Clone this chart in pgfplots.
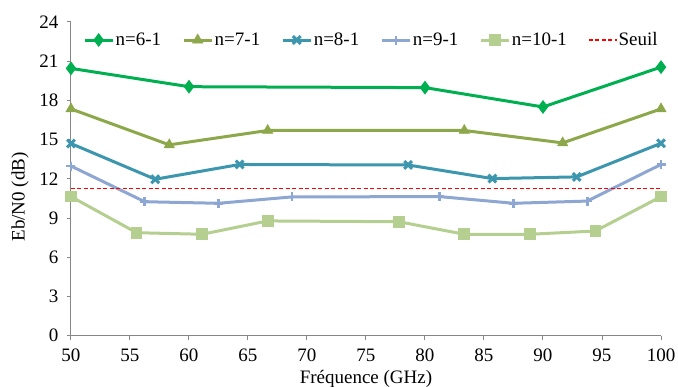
\documentclass[border=0pt]{standalone}
\usepackage{fontspec}
\setmainfont{Liberation Serif}
\usepackage{pgfplots}
\pgfplotsset{compat=1.18}
\definecolor{cA}{RGB}{0,176,80}
\definecolor{cB}{RGB}{140,168,74}
\definecolor{cC}{RGB}{60,150,174}
\definecolor{cD}{RGB}{142,166,210}
\definecolor{cE}{RGB}{181,207,144}
\definecolor{axgray}{RGB}{134,134,134}
\begin{document}
\begin{tikzpicture}
\useasboundingbox (-71pt,-50.3pt) rectangle (607pt,335.7pt);
\begin{axis}[
  scale only axis, width=590pt, height=313.7pt,
  xmin=50, xmax=100, ymin=0, ymax=24,
  xtick={50,55,...,100}, ytick={0,3,...,24},
  axis x line*=bottom, axis y line*=left,
  axis line style={draw=axgray, line width=1pt, -},
  tick align=outside, major tick length=4pt,
  every tick/.style={draw=axgray, line width=1pt},
  /pgf/number format/assume math mode=true,
  every tick label/.append style={font=\fontsize{19}{22}\selectfont, text=black},
  xticklabel style={yshift=-6pt},
  yticklabel style={xshift=-5pt},
  label style={font=\fontsize{19}{22}\selectfont},
  xlabel={Fréquence (GHz)}, ylabel={Eb/N0 (dB)},
  xlabel style={at={(axis description cs:0.5,0)}, anchor=center, yshift=-43pt},
  ylabel style={at={(axis description cs:0,0.5)}, anchor=center, xshift=-18pt, yshift=51pt},
  legend style={at={(axis description cs:0.0203,0.9426)}, anchor=west, draw=none, fill=none,
    inner sep=0pt, font=\fontsize{19}{22}\selectfont,
    nodes={inner sep=1.5pt},
    /tikz/every even column/.append style={column sep=19.5pt}},
  legend columns=-1,
  legend image code/.code={\draw[mark repeat=2,mark phase=2] plot coordinates {(0pt,0pt) (14pt,0pt) (28pt,0pt)};},
]
\addplot[cA, line width=3pt, mark=diamond*, mark size=4.5pt, mark options={solid}] coordinates {
(50,20.45) (60,19.05) (80,18.98) (90,17.5) (100,20.55)};
\addlegendentry{n=6-1}
\addplot[cB, line width=3pt, mark=triangle*, mark size=6pt, mark options={solid, line width=0.5pt}] coordinates {
(50,17.35) (58.33,14.6) (66.67,15.7) (83.33,15.7) (91.67,14.75) (100,17.35)};
\addlegendentry{n=7-1}
\addplot[cC, line width=3pt, mark=x, mark size=5.5pt, mark options={solid, line width=3pt}] coordinates {
(50,14.7) (57.14,11.97) (64.29,13.1) (78.57,13.06) (85.71,12.02) (92.86,12.15) (100,14.72)};
\addlegendentry{n=8-1}
\addplot[cD, line width=3pt, mark=+, mark size=4.5pt, mark options={solid, line width=2.5pt}] coordinates {
(50,12.98) (56.25,10.25) (62.5,10.13) (68.75,10.62) (81.25,10.64) (87.5,10.13) (93.75,10.3) (100,13.1)};
\addlegendentry{n=9-1}
\addplot[cE, line width=3pt, mark=square*, mark size=4.3pt, mark options={solid}] coordinates {
(50,10.64) (55.56,7.88) (61.11,7.76) (66.67,8.78) (77.78,8.72) (83.33,7.76) (88.89,7.76) (94.44,8.01) (100,10.64)};
\addlegendentry{n=10-1}
\addplot[red, line width=1.3pt, dash pattern=on 4pt off 2.5pt] coordinates {(50,11.28) (100,11.28)};
\addlegendentry{Seuil}
\end{axis}
\end{tikzpicture}
\end{document}
